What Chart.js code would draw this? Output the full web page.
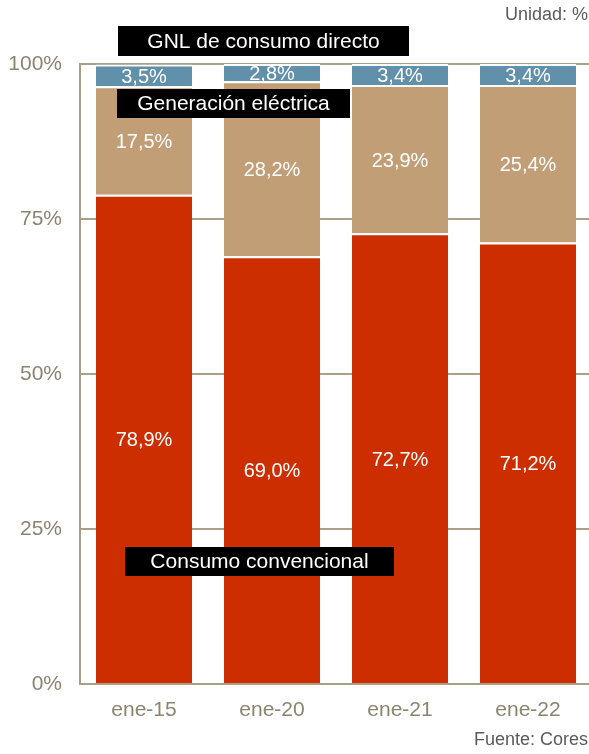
<!DOCTYPE html>
<html>
<head>
<meta charset="utf-8">
<script src="https://cdn.jsdelivr.net/npm/chart.js@4/dist/chart.umd.min.js"></script>
<style>
  html, body { margin: 0; padding: 0; background: #fff; overflow: hidden; }
  canvas { display: block; }
</style>
</head>
<body>
<canvas id="gnlChart" width="592" height="754"></canvas>
<script>
// Data
const categories = ['ene-15', 'ene-20', 'ene-21', 'ene-22'];
const convencional = [78.9, 69.0, 72.7, 71.2];
const electrica = [17.5, 28.2, 23.9, 25.4];
const directo = [3.5, 2.8, 3.4, 3.4];
const seriesNames = ['Consumo convencional', 'Generación eléctrica', 'GNL de consumo directo'];
const yTicks = [0, 25, 50, 75, 100];

const FONT = "'Liberation Sans', Arial, sans-serif";
const axisColor = '#a99e87';
const tickColor = '#8b8470';

// black label boxes (layout only)
const labelBoxes = [
    { text: seriesNames[2], x: 118, y: 26, w: 291, h: 30 },
    { text: seriesNames[1], x: 117, y: 89, w: 233, h: 29 },
    { text: seriesNames[0], x: 125, y: 547, w: 269, h: 29 }
];

const fmt = v => v.toFixed(1).replace('.', ',') + '%';

const valueLabels = {
    id: 'valueLabels',
    afterDatasetsDraw(chart) {
        const ctx = chart.ctx;
        ctx.save();
        ctx.fillStyle = '#ffffff';
        ctx.font = '20px ' + FONT;
        ctx.textAlign = 'center';
        ctx.textBaseline = 'middle';
        chart.data.datasets.forEach((ds, di) => {
            const meta = chart.getDatasetMeta(di);
            meta.data.forEach((bar, i) => {
                const y = (bar.y + bar.base) / 2;
                ctx.fillText(fmt(ds.data[i]), bar.x, y + 2);
            });
        });
        ctx.restore();
    },
    afterDraw(chart) {
        const ctx = chart.ctx;
        ctx.save();
        // series name boxes
        ctx.font = '21px ' + FONT;
        ctx.textAlign = 'center';
        ctx.textBaseline = 'middle';
        labelBoxes.forEach(b => {
            ctx.fillStyle = '#000000';
            ctx.fillRect(b.x, b.y, b.w, b.h);
            ctx.fillStyle = '#ffffff';
            ctx.fillText(b.text, b.x + b.w / 2, b.y + b.h / 2 + 1);
        });
        // unit and source
        ctx.fillStyle = '#5a5a5a';
        ctx.font = '18px ' + FONT;
        ctx.textAlign = 'right';
        ctx.fillText('Unidad: %', 588, 15);
        ctx.fillText('Fuente: Cores', 588, 740);
        ctx.restore();
    }
};

const ctx = document.getElementById('gnlChart').getContext('2d');
new Chart(ctx, {
    type: 'bar',
    data: {
        labels: categories,
        datasets: [
            { label: seriesNames[0], data: convencional, backgroundColor: '#cc2e00' },
            { label: seriesNames[1], data: electrica, backgroundColor: '#c19e76' },
            { label: seriesNames[2], data: directo, backgroundColor: '#6090aa' }
        ].map(d => Object.assign(d, {
            borderColor: '#ffffff',
            borderWidth: { top: 2, bottom: 0, left: 0, right: 0 },
            borderSkipped: false,
            barPercentage: 0.75,
            categoryPercentage: 1.0
        }))
    },
    options: {
        responsive: false,
        animation: false,
        devicePixelRatio: 1,
        layout: { padding: { top: 64, left: 0, right: 0, bottom: 0 } },
        plugins: {
            legend: { display: false },
            tooltip: { enabled: false }
        },
        scales: {
            x: {
                stacked: true,
                grid: { display: false, drawTicks: false },
                border: { color: axisColor, width: 2 },
                ticks: { color: tickColor, font: { family: FONT, size: 21 }, padding: 14 },
                afterFit(scale) { scale.height = 70; }
            },
            y: {
                stacked: true,
                min: 0,
                max: 100,
                afterBuildTicks(scale) { scale.ticks = yTicks.map(v => ({ value: v })); },
                grid: { color: axisColor, lineWidth: 2, drawTicks: false },
                border: { color: axisColor, width: 2 },
                ticks: {
                    color: tickColor,
                    font: { family: FONT, size: 21 },
                    padding: 18,
                    callback: v => v + '%'
                },
                afterFit(scale) { scale.width = 80; }
            }
        }
    },
    plugins: [valueLabels]
});
</script>
</body>
</html>
